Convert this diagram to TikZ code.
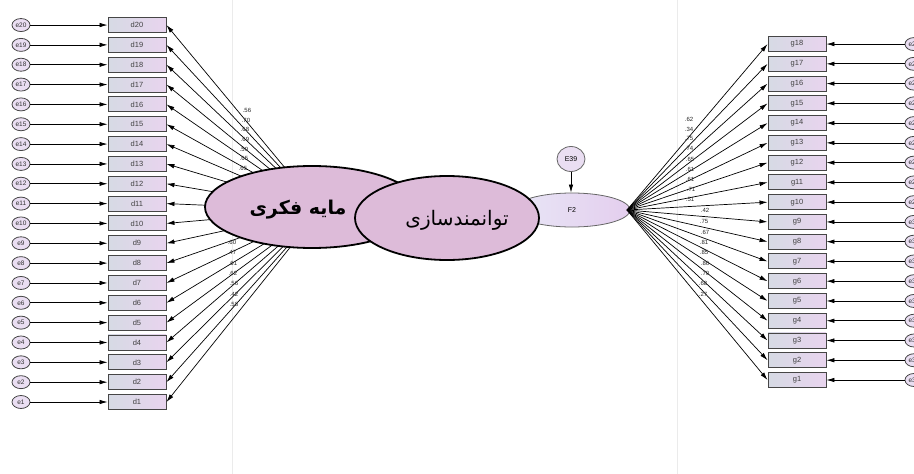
\documentclass[tikz,border=0pt]{standalone}
\usepackage{fontspec}
\setmainfont{Liberation Sans}
\newfontfamily\arabicfont[Script=Arabic]{DejaVu Sans}
\TeXXeTstate=1
\usetikzlibrary{shapes.geometric,arrows.meta}
\definecolor{boxL}{RGB}{214,218,228}
\definecolor{boxR}{RGB}{232,212,238}
\definecolor{efill}{RGB}{234,222,242}
\definecolor{lvfill}{RGB}{221,187,217}
\definecolor{edgegray}{RGB}{70,70,70}
\definecolor{fL}{RGB}{232,230,246}
\definecolor{fR}{RGB}{228,206,238}
\tikzset{
 obs/.style={draw=edgegray, line width=0.9pt, left color=boxL, right color=boxR, minimum width=58pt, minimum height=15pt, inner sep=0pt, font=\fontsize{7.5}{8}\selectfont, text=black!75},
 err/.style={ellipse, draw=edgegray, line width=0.8pt, fill=efill, minimum width=18pt, minimum height=13pt, inner sep=0pt, font=\fontsize{6.5}{7}\selectfont, text=black!80},
 arr/.style={-{Latex[length=8pt,width=4.5pt]}, line width=0.7pt, black},
 load/.style={font=\fontsize{6}{7}\selectfont, text=black!85, inner sep=0pt},
 bigell/.style={ellipse, draw=black, line width=1.8pt, fill=lvfill, inner sep=0pt},
 faint/.style={draw=black!8, line width=0.6pt}
}
\begin{document}
\begin{tikzpicture}[x=1pt,y=-1pt]
\useasboundingbox (0,0) rectangle (914,474);
\fill[white] (0,0) rectangle (914,474);
\draw[faint] (232,0) -- (232,474);
\draw[faint] (677,0) -- (677,474);
% hidden factor source for left indicators
\coordinate (F1) at (320,210);
% left side
\foreach \i in {1,...,20}{
  \pgfmathsetmacro\yy{402-(\i-1)*19.84}
  \node[err] (e\i) at (21,\yy) {e\i};
  \node[obs] (d\i) at (137,\yy) {d\i};
  \draw[arr] (e\i.east) -- (d\i.west);
  \draw[arr] (F1) -- (d\i.east);
}
% left loadings
\foreach \v/\x/\y [count=\k] in {.56/247/110,.70/246/120,.68/245/129,.69/245/139,.59/244/149,.65/244/158,.65/243/168}{
  \node[load] (lt\k) at (\x,\y) {\v};
}
\foreach \v/\x/\y [count=\k] in {.60/232/242,.47/232/252,.61/233/263,.62/233/273,.56/234/283,.42/234/294,.58/234/304}{
  \node[load] (lb\k) at (\x,\y) {\v};
}
% F2 and E39
\node[ellipse, draw=black!60, line width=0.8pt, left color=fL, right color=fR, minimum width=116pt, minimum height=34pt, inner sep=0pt, font=\fontsize{7}{8}\selectfont] (F2) at (572,210) {F2};
\node[ellipse, draw=black!60, line width=0.8pt, fill=efill, minimum width=28pt, minimum height=25pt, inner sep=0pt, font=\fontsize{7}{8}\selectfont] (E39) at (571,159) {E39};
\draw[arr] (E39.south) -- (E39.south |- F2.north);
\coordinate (F2r) at (627,210);
% right side
\foreach \j in {1,...,18}{
  \pgfmathsetmacro\yy{380-(\j-1)*19.76}
  \pgfmathtruncatemacro\ee{39-\j}
  \node[obs] (g\j) at (797,\yy) {g\j};
  \node[err] (r\j) at (914,\yy) {e\ee};
  \draw[arr] (r\j.west) -- (g\j.east);
  \draw[arr] (F2r) -- (g\j.west);
}
\foreach \v/\x/\y [count=\k] in {.62/689/119,.34/689/129,.75/689/138,.74/689/148,.65/690/159,.61/690/169,.61/690/179,.71/691/189,.51/690/199}{
  \node[load] (rt\k) at (\x,\y) {\v};
}
\foreach \v/\x/\y [count=\k] in {.42/705/210,.75/704/221,.67/705/232,.81/704/242,.85/704/252,.86/705/263,.70/705/273,.68/703/283,.27/703/294}{
  \node[load] (rb\k) at (\x,\y) {\v};
}
% big latent ellipses
\node[bigell, minimum width=214pt, minimum height=82pt] (IC) at (312,207) {};
\node[font=\arabicfont\bfseries\fontsize{19}{22}\selectfont, inner sep=0pt] (ICt) at (298,210) {\beginR مایه فکری\endR};
\node[bigell, minimum width=184pt, minimum height=84pt] (EM) at (447,218) {};
\node[font=\arabicfont\fontsize{20}{23}\selectfont, inner sep=0pt] (EMt) at (457,220) {\beginR توانمندسازی\endR};
\end{tikzpicture}
\end{document}
